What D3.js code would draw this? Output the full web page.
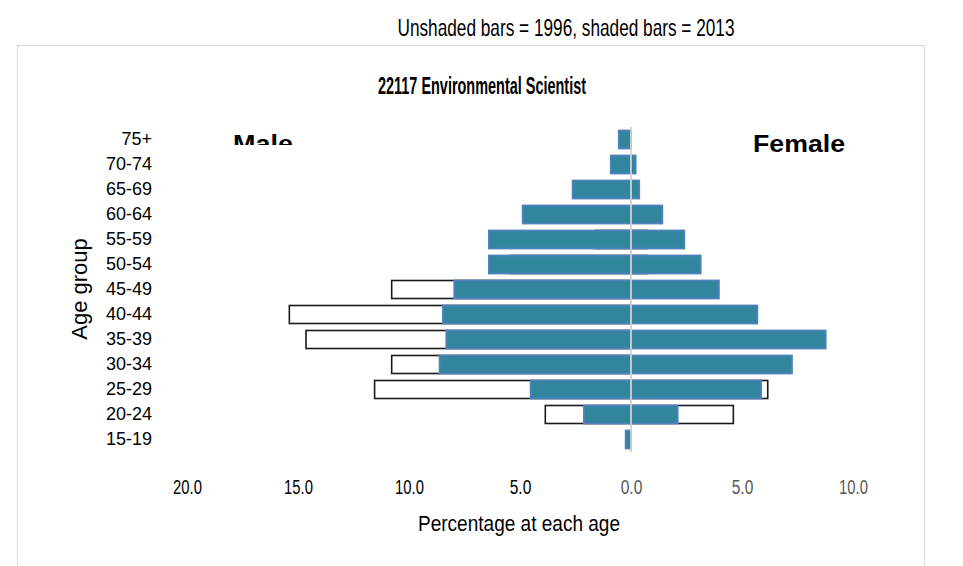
<!DOCTYPE html>
<html>
<head>
<meta charset="utf-8">
<script src="https://cdn.jsdelivr.net/npm/d3@7"></script>
<style>
  html, body { margin: 0; padding: 0; background: #fff; }
  svg { display: block; }
</style>
</head>
<body>
<svg id="chart" width="963" height="566"></svg>
<script>
// ---- data ----
const ageGroups = ["15-19","20-24","25-29","30-34","35-39","40-44","45-49","50-54","55-59","60-64","65-69","70-74","75+"];
const male1996   = [0, 3.86, 11.55, 10.78, 14.64, 15.39, 10.78, 5.45, 1.59, 0, 0, 0, 0];
const female1996 = [0, 4.61, 6.16, 0, 0, 0, 0, 0.75, 0.75, 0, 0, 0, 0];
const male2013   = [0.24, 2.12, 4.52, 8.62, 8.32, 8.47, 7.96, 6.40, 6.40, 4.88, 2.63, 0.91, 0.55];
const female2013 = [0, 2.10, 5.86, 7.25, 8.77, 5.69, 3.96, 3.14, 2.40, 1.41, 0.37, 0.21, 0];
const xTicks = [-20, -15, -10, -5, 0, 5, 10];

const svg = d3.select("#chart");
const font = "'Liberation Sans', Arial, sans-serif";

// frame
svg.append("rect").attr("x", 17.5).attr("y", 45.5).attr("width", 907).attr("height", 540)
  .attr("fill", "#fff").attr("stroke", "#d9d9d9").attr("stroke-width", 1);

// header
svg.append("text").attr("x", 566).attr("y", 36).attr("text-anchor", "middle")
  .attr("font-family", font).attr("font-size", 24).attr("fill", "#000")
  .attr("textLength", 337).attr("lengthAdjust", "spacingAndGlyphs")
  .text("Unshaded bars = 1996, shaded bars = 2013");

svg.append("text").attr("x", 482).attr("y", 94).attr("text-anchor", "middle")
  .attr("font-family", font).attr("font-weight", "bold")
  .attr("font-size", 23).attr("fill", "#000")
  .attr("textLength", 208).attr("lengthAdjust", "spacingAndGlyphs")
  .text("22117 Environmental Scientist");

// scales
const x = d3.scaleLinear().domain([-20, 10]).range([187, 853]);
const y = d3.scaleBand().domain(ageGroups).range([452, 127]).paddingInner(0.28).paddingOuter(0.14);

const rows = ageGroups.map((g, i) => ({ g, m96: male1996[i], f96: female1996[i], m13: male2013[i], f13: female2013[i] }));

// 1996 bars (unshaded)
const g96 = svg.append("g");
g96.selectAll("rect").data(rows.filter(d => d.m96 + d.f96 > 0)).join("rect")
  .attr("x", d => x(-d.m96)).attr("width", d => x(d.f96) - x(-d.m96))
  .attr("y", d => y(d.g)).attr("height", y.bandwidth())
  .attr("fill", "#fff").attr("stroke", "#1a1a1a").attr("stroke-width", 1.6);

// 2013 bars (shaded)
const g13 = svg.append("g");
g13.selectAll("rect").data(rows.filter(d => d.m13 + d.f13 > 0)).join("rect")
  .attr("x", d => x(-d.m13)).attr("width", d => x(d.f13) - x(-d.m13))
  .attr("y", d => y(d.g)).attr("height", y.bandwidth())
  .attr("fill", "#31859C").attr("stroke", "#4F81BD").attr("stroke-width", 1.8);

// zero line
svg.append("line").attr("x1", x(0)).attr("x2", x(0)).attr("y1", 127).attr("y2", 452)
  .attr("stroke", "#d0d0d0").attr("stroke-width", 1.8);

// y axis
const yAxis = svg.append("g").attr("transform", "translate(160,0)")
  .call(d3.axisLeft(y).tickSize(0).tickPadding(8));
yAxis.select(".domain").remove();
yAxis.selectAll("text").attr("font-family", font).attr("font-size", 18).attr("fill", "#000");

// x axis
const xAxis = svg.append("g").attr("transform", "translate(0,452)")
  .call(d3.axisBottom(x).tickValues(xTicks).tickSize(0).tickPadding(28)
    .tickFormat(d => Math.abs(d).toFixed(1)));
xAxis.select(".domain").remove();
xAxis.selectAll("text").attr("font-family", font).attr("font-size", 20)
  .attr("textLength", function() { return this.textContent.length * 7.2; })
  .attr("lengthAdjust", "spacingAndGlyphs")
  .attr("fill", d => d < 0 ? "#000" : "#595959");

// axis titles
svg.append("text").attr("transform", "translate(87,289) rotate(-90)").attr("text-anchor", "middle")
  .attr("font-family", font).attr("font-size", 22).attr("fill", "#000").text("Age group");
svg.append("text").attr("x", 519).attr("y", 531).attr("text-anchor", "middle")
  .attr("font-family", font).attr("font-size", 22).attr("fill", "#000")
  .attr("textLength", 202).attr("lengthAdjust", "spacingAndGlyphs")
  .text("Percentage at each age");

// Male / Female labels
svg.append("clipPath").attr("id", "maleClip").append("rect")
  .attr("x", 200).attr("y", 100).attr("width", 150).attr("height", 45);
svg.append("text").attr("x", 233).attr("y", 152).attr("clip-path", "url(#maleClip)")
  .attr("font-family", font).attr("font-weight", "bold").attr("font-size", 24).attr("fill", "#000")
  .attr("textLength", 60).attr("lengthAdjust", "spacingAndGlyphs")
  .text("Male");
svg.append("text").attr("x", 753).attr("y", 152)
  .attr("font-family", font).attr("font-weight", "bold").attr("font-size", 24).attr("fill", "#000")
  .attr("textLength", 92).attr("lengthAdjust", "spacingAndGlyphs")
  .text("Female");
</script>
</body>
</html>
